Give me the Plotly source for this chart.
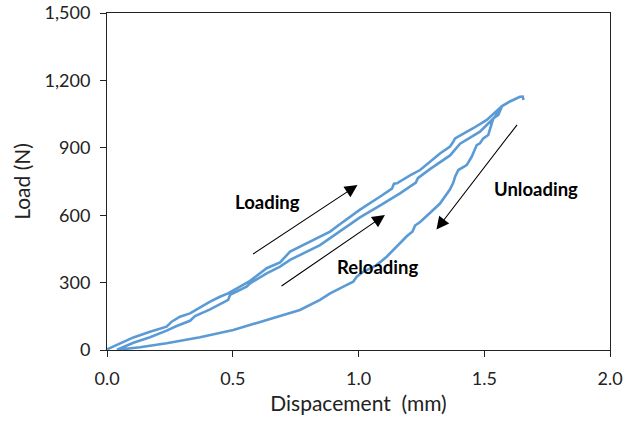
import plotly.graph_objects as go

# Loading branch (from origin up to the first peak)
load_x = [0.0, 0.052, 0.105, 0.171, 0.237, 0.257, 0.290, 0.330, 0.370, 0.410, 0.449, 0.481,
          0.529, 0.569, 0.635, 0.688, 0.728, 0.807, 0.887, 0.926, 1.006, 1.085, 1.133, 1.141,
          1.153, 1.205, 1.245, 1.324, 1.364, 1.377, 1.384, 1.456, 1.510, 1.571]
load_y = [3, 30, 56, 81, 104, 126, 148, 163, 190, 215, 237, 252,
          282, 308, 364, 390, 438, 482, 527, 560, 625, 682, 718, 740,
          742, 777, 801, 875, 905, 928, 942, 987, 1024, 1086]

# Unloading branch (from peak back down)
unload_x = [1.571, 1.556, 1.536, 1.523, 1.516, 1.496, 1.483, 1.470, 1.456, 1.450, 1.430, 1.397,
            1.384, 1.377, 1.364, 1.324, 1.284, 1.245, 1.225, 1.215, 1.192, 1.178, 1.145, 1.112,
            1.072, 1.019, 0.993, 0.979, 0.940, 0.887, 0.847, 0.767, 0.688, 0.595, 0.502, 0.370,
            0.237, 0.131, 0.052, 0.040]
unload_y = [1086, 1046, 1031, 987, 957, 942, 920, 912, 876, 860, 823, 801,
            771, 745, 715, 652, 610, 570, 554, 528, 506, 490, 453, 415,
            378, 348, 326, 304, 282, 252, 223, 178, 151, 119, 89, 57,
            30, 12, 3, 1]

# Reloading branch (back up, past the previous peak)
reload_x = [0.040, 0.105, 0.171, 0.237, 0.277, 0.330, 0.350, 0.410, 0.462, 0.482, 0.489, 0.555,
            0.569, 0.635, 0.688, 0.728, 0.847, 0.926, 1.006, 1.085, 1.165, 1.228, 1.236, 1.284,
            1.364, 1.404, 1.483, 1.543, 1.571, 1.602, 1.642, 1.653, 1.656]
reload_y = [3, 32, 57, 86, 107, 130, 151, 181, 211, 223, 245, 282,
            297, 341, 371, 401, 467, 530, 590, 643, 697, 745, 765, 805,
            866, 918, 972, 1038, 1086, 1106, 1127, 1128, 1113]

x_all = load_x + unload_x[1:] + reload_x[1:]
y_all = load_y + unload_y[1:] + reload_y[1:]

labels = ["Loading", "Reloading", "Unloading"]
label_x = [0.640, 1.074, 1.705]
label_y = [659, 369, 717]
arrow_tail_x = [0.575, 0.688, 1.635]
arrow_tail_y = [423, 280, 1009]
arrow_head_x = [0.996, 1.105, 1.310]
arrow_head_y = [734, 601, 536]

FONT = "Lato, 'Open Sans', sans-serif"

fig = go.Figure()
fig.add_trace(go.Scatter(x=x_all, y=y_all, mode="lines",
                         line=dict(color="#5B9BD5", width=2.6), showlegend=False,
                         hoverinfo="skip"))

for tx, ty, hx, hy in zip(arrow_tail_x, arrow_tail_y, arrow_head_x, arrow_head_y):
    fig.add_annotation(x=hx, y=hy, ax=tx, ay=ty, xref="x", yref="y", axref="x", ayref="y",
                       showarrow=True, arrowhead=2, arrowsize=2.3, arrowwidth=1.1,
                       arrowcolor="black", text="")

for t, lx, ly in zip(labels, label_x, label_y):
    fig.add_annotation(x=lx, y=ly, xref="x", yref="y", text="<b>" + t + "</b>",
                       showarrow=False, font=dict(family=FONT, size=18.5, color="black"))

fig.update_layout(
    width=637, height=425,
    margin=dict(l=107, r=27, t=13, b=75),
    paper_bgcolor="white", plot_bgcolor="white",
    font=dict(family=FONT, color="#222"),
    xaxis=dict(range=[0, 2.0], tickvals=[0, 0.5, 1.0, 1.5, 2.0], tickformat=".1f",
               showgrid=False, zeroline=False, showline=True, linecolor="#222", linewidth=1,
               mirror=True, ticks="outside", ticklen=6, tickcolor="#222", automargin=False,
               ticklabelstandoff=6,
               tickfont=dict(size=18, family=FONT, color="#222"),
               title=dict(text="Dispacement  (mm)", font=dict(size=21, family=FONT, color="#222"),
                          standoff=8)),
    yaxis=dict(range=[0, 1500], tickvals=[0, 300, 600, 900, 1200, 1500], tickformat=",",
               showgrid=False, zeroline=False, showline=True, linecolor="#222", linewidth=1,
               mirror=True, ticks="outside", ticklen=6, tickcolor="#222", automargin=False,
               ticklabelstandoff=6,
               tickfont=dict(size=18, family=FONT, color="#222"),
               title=dict(text="Load (N)", font=dict(size=21, family=FONT, color="#222"),
                          standoff=8)),
)

fig.write_html("out.html")
